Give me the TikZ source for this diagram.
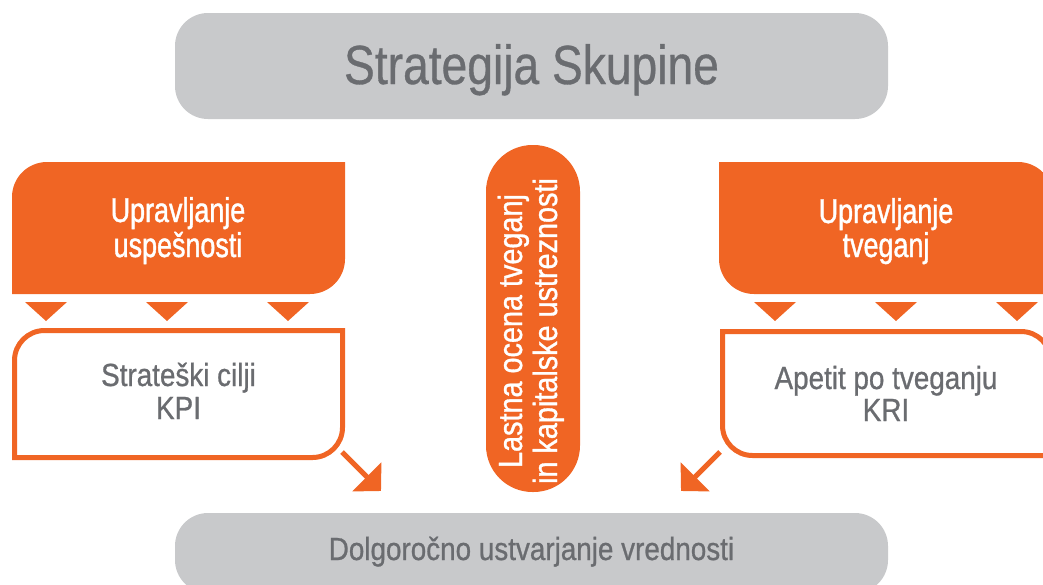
\documentclass[tikz,border=0pt]{standalone}
\usepackage{fontspec}
\setmainfont{Liberation Sans}
\newfontfamily\fTitle[FakeStretch=0.84,FakeBold=0.6]{Liberation Sans}
\newfontfamily\fOrange[FakeStretch=0.78,FakeBold=1.2]{Liberation Sans}
\newfontfamily\fGrey[FakeStretch=0.87,FakeBold=0.8]{Liberation Sans}
\newfontfamily\fPill[FakeStretch=0.86,FakeBold=1.0]{Liberation Sans}
\usetikzlibrary{arrows.meta}
\definecolor{org}{RGB}{240,101,36}
\definecolor{pillgrey}{RGB}{200,201,203}
\definecolor{txtgrey}{RGB}{106,108,112}
\begin{document}
\begin{tikzpicture}[x=1pt,y=-1pt,
  pill/.style={fill=pillgrey, inner sep=0pt, rounded corners=33pt, minimum width=713pt},
  titletext/.style={text=txtgrey, anchor=base, inner sep=0pt, font=\fTitle\fontsize{55}{60}\selectfont},
  valuetext/.style={text=txtgrey, anchor=base, inner sep=0pt, font=\fGrey\fontsize{32}{36}\selectfont},
  orangetext/.style={text=white, anchor=base, inner sep=0pt, font=\fOrange\fontsize{34.5}{40}\selectfont},
  greytext/.style={text=txtgrey, anchor=base, inner sep=0pt, font=\fGrey\fontsize{32}{36}\selectfont},
  pilltext/.style={text=white, anchor=base, inner sep=0pt, rotate=90, font=\fPill\fontsize{33.5}{36}\selectfont},
  wbox/.style={draw=org, fill=white, line width=5pt},
  arr/.style={draw=org, line width=5pt, -{Triangle[length=20pt,width=40pt]}}
]
\useasboundingbox (0,0) rectangle (1043,584);
\clip (0,0) rectangle (1043,584);

% top pill
\node[pill, minimum height=106pt] (strategy) at (531.5,66) {};
\node[titletext] (strategytxt) at (531.5,84) {Strategija Skupine};

% bottom pill
\node[pill, minimum height=80pt] (value) at (531.5,553) {};
\node[valuetext] (valuetxt) at (531.5,560) {Dolgoročno ustvarjanje vrednosti};

% left orange box
\fill[org] (12,294) -- (12,197) arc[start angle=180, end angle=270, radius=35]
  -- (345,162) -- (345,259) arc[start angle=0, end angle=90, radius=35] -- cycle;
\node[orangetext] (perf1) at (178,222) {Upravljanje};
\node[orangetext] (perf2) at (178,257) {uspešnosti};

% right orange box
\fill[org] (719,162) -- (1018,162) arc[start angle=270, end angle=360, radius=35]
  -- (1053,294) -- (754,294) arc[start angle=90, end angle=180, radius=35] -- cycle;
\node[orangetext] (risk1) at (886,223) {Upravljanje};
\node[orangetext] (risk2) at (886,257) {tveganj};

% triangles
\foreach \cx in {46,167,288,775,896,1017}
  \fill[org] (\cx-21,302) -- (\cx+21,302) -- (\cx,321) -- cycle;

% white boxes
\draw[wbox] (14.5,457.5) -- (14.5,360.5) arc[start angle=180, end angle=270, radius=30]
  -- (342.5,330.5) -- (342.5,427.5) arc[start angle=0, end angle=90, radius=30] -- cycle;
\node[greytext] (kpi1) at (178.5,386) {Strateški cilji};
\node[greytext] (kpi2) at (178.5,419) {KPI};

\draw[wbox] (722.5,331.5) -- (1021,331.5) arc[start angle=270, end angle=360, radius=30]
  -- (1051,455.5) -- (752.5,455.5) arc[start angle=90, end angle=180, radius=30] -- cycle;
\node[greytext] (kri1) at (886,389) {Apetit po tveganju};
\node[greytext] (kri2) at (886,421) {KRI};

% centre pill
\node[fill=org, inner sep=0pt, rounded corners=46.5pt, minimum width=94pt, minimum height=347pt] (orsa) at (533,318.5) {};
\node[pilltext] (orsa1) at (522,331) {Lastna ocena tveganj};
\node[pilltext] (orsa2) at (557,331) {in kapitalske ustreznosti};

% arrows
\coordinate (kpiout) at (342,452);
\coordinate (valuel) at (381,491);
\coordinate (kriout) at (720,452);
\coordinate (valuer) at (681,491);
\draw[arr] (kpiout) -- (valuel);
\draw[arr] (kriout) -- (valuer);
\end{tikzpicture}
\end{document}
